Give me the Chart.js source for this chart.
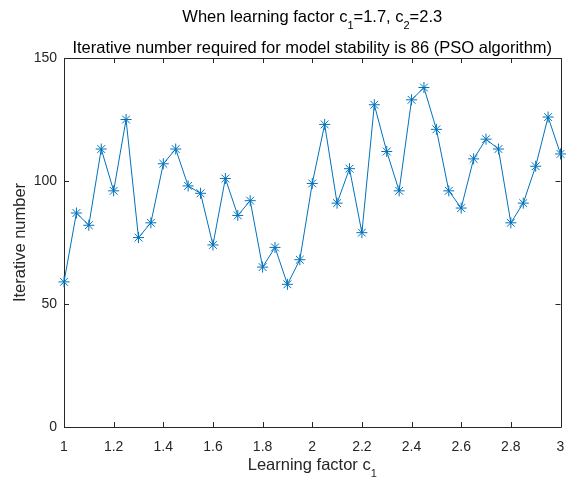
<!DOCTYPE html>
<html>
<head>
<meta charset="utf-8">
<style>
  html, body { margin: 0; padding: 0; background: #ffffff; }
  #wrap { width: 567px; height: 480px; }
</style>
<script src="https://cdn.jsdelivr.net/npm/chart.js@4/dist/chart.umd.min.js"></script>
</head>
<body>
<div id="wrap"><canvas id="c" width="567" height="480"></canvas></div>
<script>
// Learning factor c1 sweep and the iteration count needed for stability
const learningFactor = [1.00, 1.05, 1.10, 1.15, 1.20, 1.25, 1.30, 1.35, 1.40, 1.45,
                        1.50, 1.55, 1.60, 1.65, 1.70, 1.75, 1.80, 1.85, 1.90, 1.95,
                        2.00, 2.05, 2.10, 2.15, 2.20, 2.25, 2.30, 2.35, 2.40, 2.45,
                        2.50, 2.55, 2.60, 2.65, 2.70, 2.75, 2.80, 2.85, 2.90, 2.95, 3.00];
const iterations = [59, 87, 82, 113, 96, 125, 77, 83, 107, 113,
                    98, 95, 74, 101, 86, 92, 65, 73, 58, 68,
                    99, 123, 91, 105, 79, 131, 112, 96, 133, 138,
                    121, 96, 89, 109, 117, 113, 83, 91, 106, 126, 111];
const xTicks = [1, 1.2, 1.4, 1.6, 1.8, 2, 2.2, 2.4, 2.6, 2.8, 3];
const yTicks = [0, 50, 100, 150];

const FONT = '"Liberation Sans", Arial, Helvetica, sans-serif';
const INK = '#262626';
const LINE = '#0072BD';
const TEXT_SIZE = 16.5;

// Draws a run of text pieces where some are subscripts, centred on cx
function drawRich(ctx, parts, cx, y, size) {
  const subSize = Math.round(size * 0.66);
  let total = 0;
  const widths = parts.map(p => {
    ctx.font = (p.sub ? subSize : size) + 'px ' + FONT;
    const w = ctx.measureText(p.t).width;
    total += w;
    return w;
  });
  let x = cx - total / 2;
  ctx.textAlign = 'left';
  ctx.textBaseline = 'alphabetic';
  parts.forEach((p, i) => {
    ctx.font = (p.sub ? subSize : size) + 'px ' + FONT;
    ctx.fillText(p.t, x, p.sub ? y + size * 0.45 : y);
    x += widths[i];
  });
}

const framePlugin = {
  id: 'frame',
  beforeDatasetsDraw(chart) {
    const ctx = chart.ctx;
    const a = chart.chartArea;
    const xs = chart.scales.x, ys = chart.scales.y;
    ctx.save();
    ctx.strokeStyle = INK;
    ctx.lineWidth = 1;
    ctx.beginPath();
    ctx.rect(Math.round(a.left) + 0.5, Math.round(a.top) + 0.5,
             Math.round(a.right - a.left), Math.round(a.bottom - a.top));
    // inward tick marks on all four sides
    const tl = 5;
    xTicks.forEach(v => {
      const px = Math.round(xs.getPixelForValue(v)) + 0.5;
      ctx.moveTo(px, a.bottom); ctx.lineTo(px, a.bottom - tl);
      ctx.moveTo(px, a.top); ctx.lineTo(px, a.top + tl);
    });
    yTicks.forEach(v => {
      const py = Math.round(ys.getPixelForValue(v)) + 0.5;
      ctx.moveTo(a.left, py); ctx.lineTo(a.left + tl, py);
      ctx.moveTo(a.right, py); ctx.lineTo(a.right - tl, py);
    });
    ctx.stroke();
    ctx.restore();
  },
  afterDraw(chart) {
    const ctx = chart.ctx;
    const a = chart.chartArea;
    const cx = (a.left + a.right) / 2;
    ctx.save();
    ctx.fillStyle = '#000000';
    drawRich(ctx, [
      { t: 'When learning factor c' }, { t: '1', sub: true },
      { t: '=1.7, c' }, { t: '2', sub: true }, { t: '=2.3' }
    ], cx, 22, TEXT_SIZE);
    drawRich(ctx, [
      { t: 'Iterative number required for model stability is 86 (PSO algorithm)' }
    ], cx, 52.5, TEXT_SIZE);
    ctx.fillStyle = INK;
    drawRich(ctx, [
      { t: 'Learning factor c' }, { t: '1', sub: true }
    ], cx, 470, TEXT_SIZE);
    ctx.translate(25, (a.top + a.bottom) / 2);
    ctx.rotate(-Math.PI / 2);
    drawRich(ctx, [{ t: 'Iterative number' }], 0, 0, TEXT_SIZE);
    ctx.restore();
  }
};

new Chart(document.getElementById('c'), {
  type: 'line',
  data: {
    datasets: [{
      data: learningFactor.map((x, i) => ({ x: x, y: iterations[i] })),
      borderColor: LINE,
      backgroundColor: LINE,
      borderWidth: 1,
      pointStyle: 'star',
      pointRadius: 5.5,
      pointBorderWidth: 1,
      pointBorderColor: LINE,
      pointHoverRadius: 5.5,
      tension: 0,
      clip: false
    }]
  },
  options: {
    responsive: false,
    animation: false,
    devicePixelRatio: 1,
    layout: { padding: { top: 58, right: 6, left: 0, bottom: 0 } },
    plugins: { legend: { display: false }, title: { display: false }, tooltip: { enabled: false } },
    scales: {
      x: {
        type: 'linear', min: 1, max: 3,
        afterBuildTicks: s => { s.ticks = xTicks.map(v => ({ value: v })); },
        afterFit: s => { s.height = 53; s.paddingLeft = 0; s.paddingRight = 0; },
        grid: { display: false, drawTicks: false },
        border: { display: false },
        ticks: { color: INK, font: { family: FONT, size: 14 }, padding: 12, maxRotation: 0,
                 callback: v => String(v) }
      },
      y: {
        type: 'linear', min: 0, max: 150,
        afterBuildTicks: s => { s.ticks = yTicks.map(v => ({ value: v })); },
        afterFit: s => { s.width = 64; s.paddingTop = 0; s.paddingBottom = 0; },
        grid: { display: false, drawTicks: false },
        border: { display: false },
        ticks: { color: INK, font: { family: FONT, size: 14 }, padding: 7 }
      }
    }
  },
  plugins: [framePlugin]
});
</script>
</body>
</html>
